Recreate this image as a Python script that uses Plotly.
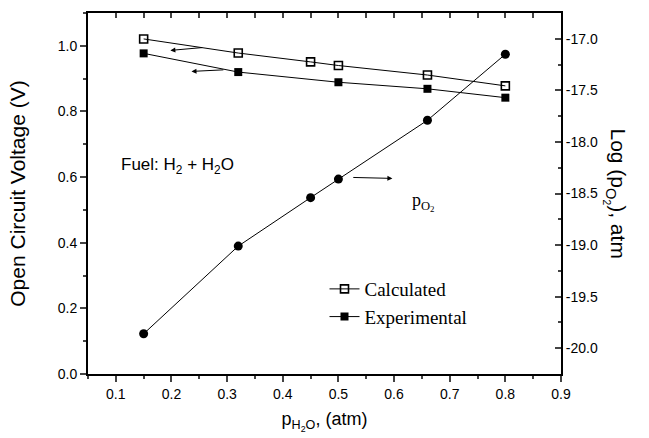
import plotly.graph_objects as go

# ---- data ----
p_h2o_calc = [0.15, 0.32, 0.45, 0.50, 0.66, 0.80]
ocv_calc = [1.021, 0.978, 0.951, 0.940, 0.911, 0.878]

p_h2o_exp = [0.15, 0.32, 0.50, 0.66, 0.80]
ocv_exp = [0.977, 0.920, 0.889, 0.869, 0.842]

p_h2o_po2 = [0.15, 0.32, 0.45, 0.50, 0.66, 0.80]
log_po2 = [-19.86, -19.01, -18.54, -18.36, -17.79, -17.15]

right_tickvals = [-20.0, -19.5, -19.0, -18.5, -18.0, -17.5, -17.0]
right_ticktext = ["-20.0", "-19.5", "-19.0", "-18.5", "-18.0", "-17.5", "-17.0"]

SANS = "Arial, Liberation Sans, sans-serif"
SERIF = "Times New Roman, Liberation Serif, serif"

fig = go.Figure()

fig.add_trace(go.Scatter(
    x=p_h2o_calc, y=ocv_calc, name="Calculated", mode="lines+markers",
    legendgroup="a",
    line=dict(color="black", width=1),
    marker=dict(symbol="square-open", size=8, color="black", line=dict(width=1.6)),
    xaxis="x", yaxis="y"))
fig.add_trace(go.Scatter(
    x=p_h2o_exp, y=ocv_exp, name="Experimental", mode="lines+markers",
    legendgroup="b",
    line=dict(color="black", width=1),
    marker=dict(symbol="square", size=8, color="black"),
    xaxis="x", yaxis="y"))
fig.add_trace(go.Scatter(
    x=p_h2o_po2, y=log_po2, name="pO2", mode="lines+markers", showlegend=False,
    line=dict(color="black", width=1),
    marker=dict(symbol="circle", size=9, color="black"),
    xaxis="x", yaxis="y2"))
# invisible trace to activate the top mirror axis
fig.add_trace(go.Scatter(x=[0.5], y=[0.5], mode="markers", showlegend=False,
                         marker=dict(opacity=0), hoverinfo="skip",
                         xaxis="x2", yaxis="y"))

arrows = [
    # (tail_x, tail_y, head_x, head_y)
    (0.258, 0.995, 0.198, 0.986),
    (0.296, 0.927, 0.236, 0.922),
    (0.524, 0.599, 0.597, 0.596),
]
for tx, ty, hx, hy in arrows:
    fig.add_annotation(x=hx, y=hy, ax=tx, ay=ty, xref="x", yref="y",
                       axref="x", ayref="y", showarrow=True, text="",
                       arrowhead=2, arrowsize=1, arrowwidth=1, arrowcolor="black")

fig.add_annotation(x=0.105, y=0.633, xref="x", yref="y", xanchor="left", yanchor="middle",
                   text="Fuel: H<sub>2</sub> + H<sub>2</sub>O", showarrow=False,
                   font=dict(family=SANS, size=17, color="black"))
fig.add_annotation(x=0.629, y=0.525, xref="x", yref="y", xanchor="left", yanchor="middle",
                   text="p<sub>O<sub>2</sub></sub>", showarrow=False,
                   font=dict(family=SERIF, size=18, color="black"))
fig.add_annotation(x=1.0, xref="paper", xshift=71, y=0.5, yref="paper",
                   text="Log (p<sub>O<sub>2</sub></sub>), atm", textangle=90,
                   showarrow=False, font=dict(family=SANS, size=21, color="black"))

fig.update_layout(
    width=649, height=438,
    margin=dict(l=88, r=88, t=13, b=62),
    paper_bgcolor="white", plot_bgcolor="white",
    font=dict(family=SANS, size=14, color="black"),
    showlegend=True,
    legend=dict(x=0.50, y=0.288, xanchor="left", yanchor="top",
                font=dict(family=SERIF, size=19, color="black"),
                bgcolor="rgba(0,0,0,0)", tracegroupgap=0, traceorder="grouped"),
    xaxis=dict(range=[0.05, 0.9], tick0=0.1, dtick=0.1, ticks="outside", ticklen=6,
               tickwidth=1.5, showline=True, linewidth=2, linecolor="black",
               showgrid=False, zeroline=False,
               minor=dict(dtick=0.05, tick0=0.05, ticks="outside", ticklen=3, tickwidth=1.5),
               title=dict(text="p<sub>H<sub>2</sub>O</sub>, (atm)", standoff=12,
                          font=dict(family=SANS, size=18)),
               tickfont=dict(size=14)),
    xaxis2=dict(range=[0.05, 0.9], overlaying="x", side="top", tick0=0.05, dtick=0.05,
                ticks="inside", ticklen=5, tickwidth=1.5, showticklabels=False,
                showline=True, linewidth=2, linecolor="black", showgrid=False, zeroline=False),
    yaxis=dict(range=[0, 1.1], tick0=0, dtick=0.2, ticks="outside", ticklen=6, tickwidth=1.5,
               tickformat=".1f", showline=True, linewidth=2, linecolor="black",
               showgrid=False, zeroline=False,
               minor=dict(dtick=0.1, tick0=0, ticks="outside", ticklen=3, tickwidth=1.5),
               title=dict(text="Open Circuit Voltage (V)", standoff=26,
                          font=dict(family=SANS, size=21)),
               tickfont=dict(size=14)),
    yaxis2=dict(range=[-20.25, -16.75], overlaying="y", side="right",
                tickvals=right_tickvals, ticktext=right_ticktext,
                ticks="inside", ticklen=6, tickwidth=1.5,
                showline=True, linewidth=2, linecolor="black",
                showgrid=False, zeroline=False,
                minor=dict(dtick=0.25, tick0=-20.0, ticks="inside", ticklen=3, tickwidth=1.5),
                tickfont=dict(size=14)),
)

fig.write_html("out.html")
